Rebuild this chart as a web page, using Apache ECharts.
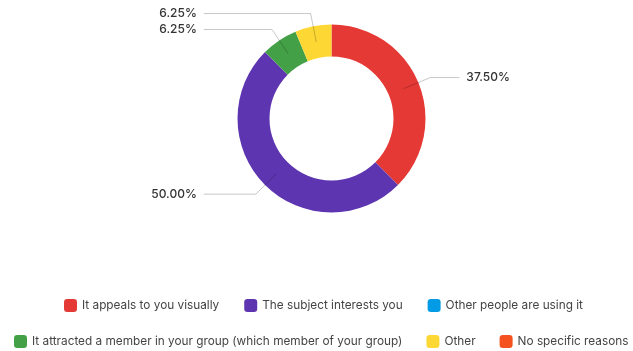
<!DOCTYPE html>
<html>
<head>
<meta charset="utf-8">
<script src="https://cdn.jsdelivr.net/npm/echarts@6/dist/echarts.min.js"></script>
<style>
  html, body { margin: 0; padding: 0; background: #fff; }
  #chart { width: 633px; height: 351px; }
</style>
</head>
<body>
<div id="chart"></div>
<script>
// Survey answers: why a group chose the item
const categories = [
  'It appeals to you visually',
  'The subject interests you',
  'Other people are using it',
  'It attracted a member in your group (which member of your group)',
  'Other',
  'No specific reasons'
];
const shares = [37.5, 50.0, 0, 6.25, 6.25, 0];
const colors = ['#e53935', '#5e35b1', '#039be5', '#43a047', '#fdd835', '#f4511e'];

const legendRow1 = categories.slice(0, 3);
const legendRow2 = categories.slice(3);

const center = [331.5, 118.5];

// Donut ring
const ringData = categories.map((name, i) => ({
  name,
  value: shares[i],
  itemStyle: { color: colors[i] }
}));

// Label carrier: an invisible disc reaching the middle of the ring,
// so the leader lines start inside the coloured band
const labelData = categories.map((name, i) => {
  const item = { name, value: shares[i] };
  if (shares[i] === 0) {
    item.label = { show: false };
    item.labelLine = { show: false };
  }
  if (i === 1) item.labelLine = { length2: 52 };
  return item;
});

const chart = echarts.init(document.getElementById('chart'), null, { renderer: 'canvas' });

const legendBase = {
  itemWidth: 13,
  itemHeight: 13,
  padding: 0,
  width: 630,
  icon: 'roundRect',
  textStyle: { fontFamily: 'Inter', fontSize: 11.8, color: '#444' },
  selectedMode: false
};

chart.setOption({
  animation: false,
  color: colors,
  legend: [
    Object.assign({}, legendBase, { data: legendRow1, top: 299, left: 64, itemGap: 25 }),
    Object.assign({}, legendBase, { data: legendRow2, top: 335, left: 14, itemGap: 24 })
  ],
  series: [
    {
      type: 'pie',
      center,
      radius: [62, 94],
      startAngle: 90,
      clockwise: true,
      silent: true,
      label: { show: false },
      labelLine: { show: false },
      data: ringData
    },
    {
      type: 'pie',
      center,
      radius: [0, 78],
      startAngle: 90,
      clockwise: true,
      silent: true,
      z: 3,
      itemStyle: { color: 'rgba(0,0,0,0)' },
      label: {
        show: true,
        formatter: p => p.value.toFixed(2) + '%',
        fontFamily: 'Inter',
        fontSize: 12,
        fontWeight: 500,
        color: '#333',
        alignTo: 'labelLine',
        distanceToLabelLine: 7
      },
      labelLine: {
        show: true,
        length: 29,
        length2: 29,
        lineStyle: { color: 'rgba(0,0,0,0.22)', width: 1 }
      },
      data: labelData
    }
  ]
});
</script>
</body>
</html>
